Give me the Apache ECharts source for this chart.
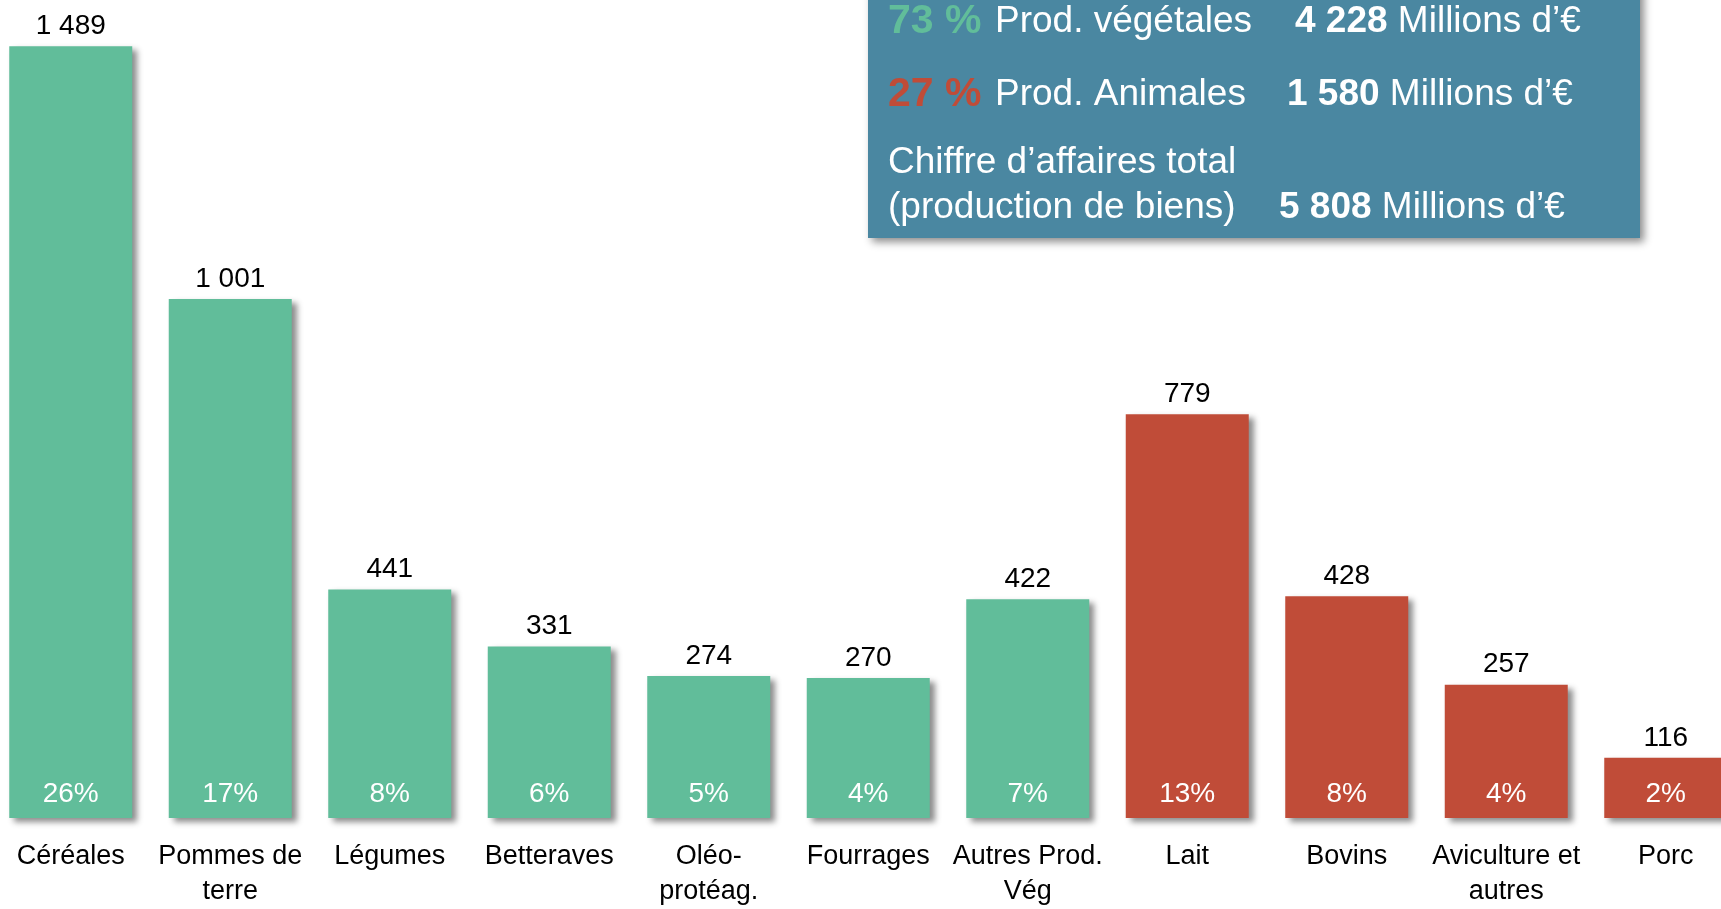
<!DOCTYPE html>
<html>
<head>
<meta charset="utf-8">
<style>
  html, body { margin: 0; padding: 0; background: #fff; }
  #chart { width: 1721px; height: 909px; }
</style>
<script src="https://cdn.jsdelivr.net/npm/echarts@6/dist/echarts.min.js"></script>
</head>
<body>
<div id="chart"></div>
<script>
// valeurs en millions d'euros
const categories = ['Céréales', 'Pommes de\nterre', 'Légumes', 'Betteraves', 'Oléo-\nprotéag.', 'Fourrages',
  'Autres Prod.\nVég', 'Lait', 'Bovins', 'Aviculture et\nautres', 'Porc']
const values = [1489, 1001, 441, 331, 274, 270, 422, 779, 428, 257, 116]
const percents = ['26%', '17%', '8%', '6%', '5%', '4%', '7%', '13%', '8%', '4%', '2%']
const groups = ['veg', 'veg', 'veg', 'veg', 'veg', 'veg', 'veg', 'ani', 'ani', 'ani', 'ani']
const valueLabels = ['1 489', '1 001', '441', '331', '274', '270', '422', '779', '428', '257', '116']

const summaryRows = [
  { pct: '73 %', label: 'Prod. végétales', amount: '4 228', group: 'veg' },
  { pct: '27 %', label: 'Prod. Animales', amount: '1 580', group: 'ani' }
]
const totalLabel = ['Chiffre d’affaires total', '(production de biens)']
const totalAmount = '5 808'
const unit = 'Millions d’€'

const colors = { veg: '#61bd9a', ani: '#c04c38' }
const yMax = 1578

const font = "'Liberation Sans', Arial, sans-serif"

const chart = echarts.init(document.getElementById('chart'))

const textShadow = {
  shadowColor: 'rgba(0,0,0,0.55)',
  shadowBlur: 6,
  shadowOffsetX: 2,
  shadowOffsetY: 2
}

const rowY = [22, 95]
const amountX = [1295, 1287]
const graphics = [{
  type: 'rect',
  shape: { x: 868, y: -20, width: 772, height: 258 },
  style: {
    fill: '#4a87a1',
    shadowColor: 'rgba(0,0,0,0.45)',
    shadowBlur: 8,
    shadowOffsetX: 4,
    shadowOffsetY: 4
  },
  z: 10
}]
summaryRows.forEach((r, i) => {
  graphics.push({
    type: 'text', x: 888, y: rowY[i], z: 11,
    style: Object.assign({
      text: r.pct, fill: colors[r.group], font: 'bold 41px ' + font, verticalAlign: 'middle'
    }, textShadow)
  })
  graphics.push({
    type: 'text', x: 995, y: rowY[i], z: 11,
    style: Object.assign({
      text: r.label, fill: '#fff', font: '37px ' + font, verticalAlign: 'middle'
    }, textShadow)
  })
  graphics.push({
    type: 'text', x: amountX[i], y: rowY[i], z: 11,
    style: Object.assign({
      text: '{b|' + r.amount + '} ' + unit, fill: '#fff', font: '37px ' + font, verticalAlign: 'middle',
      rich: { b: { fontWeight: 'bold', fontSize: 37, fontFamily: font, fill: '#fff' } }
    }, textShadow)
  })
})
totalLabel.forEach((t, i) => {
  graphics.push({
    type: 'text', x: 888, y: [163, 208][i], z: 11,
    style: Object.assign({
      text: t, fill: '#fff', font: '37px ' + font, verticalAlign: 'middle'
    }, textShadow)
  })
})
graphics.push({
  type: 'text', x: 1279, y: 208, z: 11,
  style: Object.assign({
    text: '{b|' + totalAmount + '} ' + unit, fill: '#fff', font: '37px ' + font, verticalAlign: 'middle',
    rich: { b: { fontWeight: 'bold', fontSize: 37, fontFamily: font, fill: '#fff' } }
  }, textShadow)
})

chart.setOption({
  animation: false,
  grid: { left: -9, right: -24.5, top: 0, bottom: 91, containLabel: false, outerBoundsMode: 'none' },
  xAxis: {
    type: 'category',
    data: categories,
    axisLine: { show: false },
    axisTick: { show: false },
    axisLabel: {
      interval: 0,
      margin: 21,
      color: '#000',
      fontFamily: font,
      fontSize: 27,
      lineHeight: 35
    }
  },
  yAxis: {
    type: 'value',
    min: 0,
    max: yMax,
    show: false,
    splitLine: { show: false }
  },
  series: [{
    type: 'bar',
    barWidth: 123,
    data: values.map((v, i) => ({
      value: v,
      itemStyle: { color: colors[groups[i]] }
    })),
    itemStyle: {
      shadowColor: 'rgba(0,0,0,0.45)',
      shadowBlur: 6,
      shadowOffsetX: 5,
      shadowOffsetY: 4
    },
    label: {
      show: true,
      position: 'top',
      distance: 6,
      color: '#000',
      fontFamily: font,
      fontSize: 28,
      formatter: p => valueLabels[p.dataIndex]
    }
  }, {
    type: 'bar',
    barWidth: 123,
    barGap: '-100%',
    data: values,
    itemStyle: { color: 'rgba(0,0,0,0)' },
    label: {
      show: true,
      position: 'insideBottom',
      distance: 10,
      color: '#fff',
      fontFamily: font,
      fontSize: 28,
      formatter: p => percents[p.dataIndex]
    }
  }],
  graphic: graphics
})
</script>
</body>
</html>
